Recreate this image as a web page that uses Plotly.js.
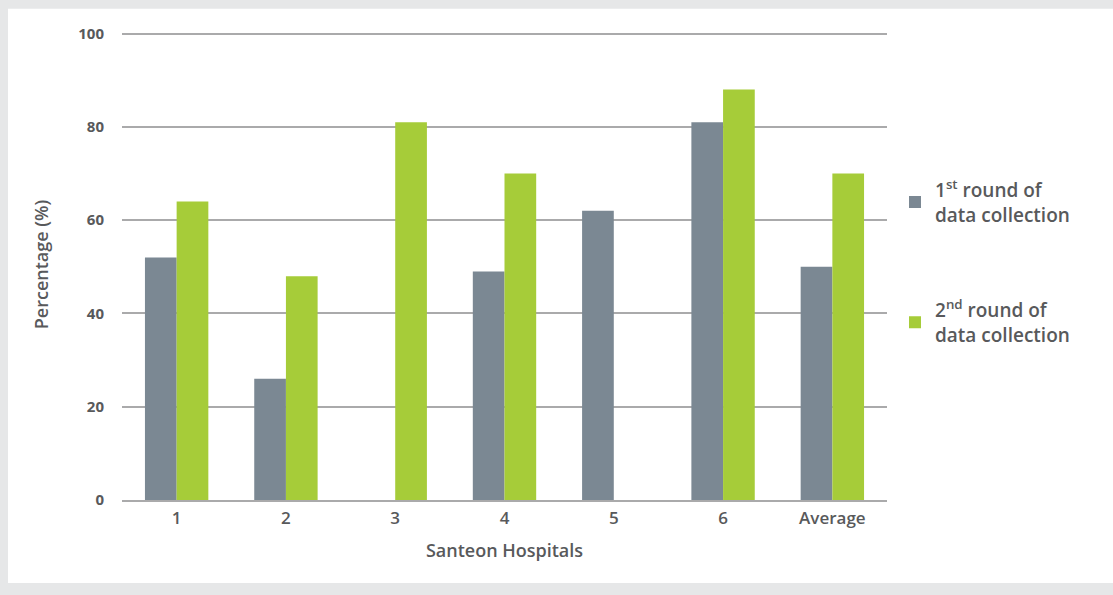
<!DOCTYPE html>
<html>
<head>
<meta charset="utf-8">
<script src="https://cdn.plot.ly/plotly-3.0.1.min.js"></script>
<style>html,body{margin:0;padding:0;background:#e6e7e8;}#chart{width:1113px;height:595px;}</style>
</head>
<body>
<div id="chart"></div>
<script>
const categories = ["1", "2", "3", "4", "5", "6", "Average"];
const round1 = [52, 26, null, 49, 62, 81, 50];
const round2 = [64, 48, 81, 70, null, 88, 70];
const seriesNames = ["1<sup>st</sup> round of<br>data collection", "2<sup>nd</sup> round of<br>data collection"];
const yTicks = [0, 20, 40, 60, 80, 100];

const txt = "#58595b";
const font = "Open Sans, Noto Sans, sans-serif";
const YMAX = 101;
const L = 122, R = 887, B = 500, W = 1113, H = 595;
const T = B - (500 - 34) / 100 * YMAX;
const px = x => (x - L) / (R - L);
const py = y => (B - y) / (B - T);

const traces = [
  {type: "bar", x: categories, y: round1, name: seriesNames[0], legendgroup: "a", marker: {color: "#7b8893"}},
  {type: "bar", x: categories, y: round2, name: seriesNames[1], legendgroup: "b", marker: {color: "#a6cc39"}}
];

const layout = {
  width: W, height: H,
  margin: {l: L, r: W - R, t: T, b: H - B, pad: 0},
  paper_bgcolor: "#e6e7e8",
  plot_bgcolor: "rgba(0,0,0,0)",
  barmode: "group",
  bargap: 0.42,
  bargroupgap: 0,
  font: {family: font, color: txt},
  showlegend: true,
  legend: {
    x: px(895), xanchor: "left", y: py(171), yanchor: "top",
    font: {size: 19, color: txt, family: font, weight: 600},
    tracegroupgap: 68, itemwidth: 30,
    bgcolor: "rgba(0,0,0,0)"
  },
  xaxis: {
    type: "category",
    showgrid: false, showline: true, linecolor: "#aaaaab", linewidth: 2,
    ticks: "outside", ticklen: 2, tickcolor: "rgba(0,0,0,0)",
    tickfont: {size: 17, color: txt, family: font, weight: 600},
    title: {text: "Santeon Hospitals", font: {size: 18, color: txt, family: font, weight: 600}, standoff: 16},
    fixedrange: true
  },
  yaxis: {
    range: [0, YMAX], tickvals: yTicks, ticktext: yTicks.map(String),
    showgrid: true, gridcolor: "#aaaaab", gridwidth: 2,
    zeroline: false, showline: false,
    ticks: "outside", ticklen: 14, tickcolor: "rgba(0,0,0,0)",
    tickfont: {size: 15, color: txt, family: font, weight: 700},
    title: {text: "Percentage (%)", font: {size: 18, color: txt, family: font, weight: 600}, standoff: 24},
    fixedrange: true
  },
  shapes: [{
    type: "rect", xref: "paper", yref: "paper", layer: "below",
    x0: px(8), x1: px(1113), y0: py(583), y1: py(9),
    fillcolor: "#ffffff", line: {width: 0}
  }]
};

Plotly.newPlot("chart", traces, layout, {displayModeBar: false, staticPlot: true});
</script>
</body>
</html>
